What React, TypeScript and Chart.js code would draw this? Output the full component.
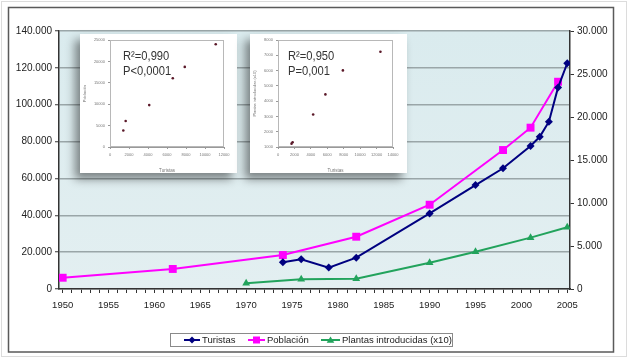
import React, { useEffect, useRef } from 'react';
import { Chart, registerables } from 'chart.js';
Chart.register(...registerables);

// ---- main chart data ----
const xTickLabels = [1950, 1955, 1960, 1965, 1970, 1975, 1980, 1985, 1990, 1995, 2000, 2005];
const leftTicks = [0, 20000, 40000, 60000, 80000, 100000, 120000, 140000];
const rightTicks = [0, 5000, 10000, 15000, 20000, 25000, 30000];

const turistasYears = [1974, 1976, 1979, 1982, 1990, 1995, 1998, 2001, 2002, 2003, 2004, 2005];
const turistasValues = [14500, 16100, 11600, 17000, 41000, 56400, 65500, 77600, 82600, 90800, 109400, 122500];

const poblacionYears = [1950, 1962, 1974, 1982, 1990, 1998, 2001, 2004];
const poblacionValues = [1310, 2330, 3950, 6080, 9800, 16160, 18760, 24100];

const plantasYears = [1970, 1976, 1982, 1990, 1995, 2001, 2005];
const plantasValues = [660, 1130, 1200, 3060, 4340, 5970, 7180];

// ---- inset scatter data ----
const inset1X = [1400, 1650, 4130, 6610, 7870, 11130];
const inset1Y = [3870, 6080, 9790, 16080, 18710, 24000];
const inset1XTicks = [0, 2000, 4000, 6000, 8000, 10000, 12000];
const inset1YTicks = [0, 5000, 10000, 15000, 20000, 25000];

const inset2X = [1650, 1780, 4280, 5770, 7900, 12470];
const inset2Y = [1220, 1310, 3130, 4440, 6010, 7230];
const inset2XTicks = [0, 2000, 4000, 6000, 8000, 10000, 12000, 14000];
const inset2YTicks = [1000, 2000, 3000, 4000, 5000, 6000, 7000, 8000];

const FONT = "'Liberation Sans', Arial, sans-serif";

const fmt = (v: number) => String(Math.round(v)).replace(/\B(?=(\d{3})+(?!\d))/g, '.');

const COL_T = '#000080';
const COL_P = '#ff00ff';
const COL_G = '#22a35c';

function drawMarker(ctx: CanvasRenderingContext2D, kind: string, x: number, y: number, color: string) {
  ctx.fillStyle = color;
  ctx.beginPath();
  if (kind === 'diamond') {
    ctx.moveTo(x, y - 3.5); ctx.lineTo(x + 3.5, y); ctx.lineTo(x, y + 3.5); ctx.lineTo(x - 3.5, y);
  } else if (kind === 'square') {
    ctx.rect(x - 3.5, y - 3.5, 7, 7);
  } else {
    ctx.moveTo(x, y - 3.5); ctx.lineTo(x + 3.8, y + 2.8); ctx.lineTo(x - 3.8, y + 2.8);
  }
  ctx.closePath();
  ctx.fill();
}

const framePlugin = {
  id: 'framePlugin',
  beforeDraw(chart: any) {
    const { ctx, chartArea: a } = chart;
    ctx.save();
    ctx.fillStyle = '#ffffff';
    ctx.fillRect(0, 0, chart.width, chart.height);
    ctx.strokeStyle = '#dcdcdc';
    ctx.lineWidth = 1;
    ctx.strokeRect(1.5, 1.5, chart.width - 3, chart.height - 3);
    ctx.strokeStyle = '#5a5a5a';
    ctx.lineWidth = 1.5;
    ctx.strokeRect(8.5, 7.5, 605, 344.5);
    const g = ctx.createLinearGradient(0, a.top, 0, a.bottom);
    g.addColorStop(0, '#daebee');
    g.addColorStop(1, '#e3eff1');
    ctx.fillStyle = g;
    ctx.fillRect(a.left, a.top, a.right - a.left, a.bottom - a.top);
    ctx.restore();
  },
  afterDraw(chart: any) {
    const { ctx } = chart;
    ctx.save();
    // legend box
    ctx.fillStyle = '#ffffff';
    ctx.fillRect(170, 333, 282, 13);
    ctx.strokeStyle = '#8a8a8a';
    ctx.lineWidth = 1;
    ctx.strokeRect(170.5, 333.5, 282, 13);
    const cy = 340;
    const items = [
      { label: 'Turistas', color: COL_T, kind: 'diamond', x0: 184, x1: 200 },
      { label: 'Población', color: COL_P, kind: 'square', x0: 248, x1: 265 },
      { label: 'Plantas introducidas (x10)', color: COL_G, kind: 'triangle', x0: 321, x1: 340 },
    ];
    ctx.font = `9.5px ${FONT}`;
    ctx.textBaseline = 'middle';
    ctx.textAlign = 'left';
    for (const it of items) {
      ctx.strokeStyle = it.color;
      ctx.lineWidth = 2;
      ctx.beginPath();
      ctx.moveTo(it.x0, cy);
      ctx.lineTo(it.x1, cy);
      ctx.stroke();
      drawMarker(ctx, it.kind, (it.x0 + it.x1) / 2, cy, it.color);
      ctx.fillStyle = '#222';
      ctx.fillText(it.label, it.x1 + 2, cy);
    }
    ctx.restore();
  },
};

function MainChart() {
  const ref = useRef<HTMLCanvasElement>(null);
  useEffect(() => {
    const chart = new Chart(ref.current!, {
      type: 'line',
      data: {
        datasets: [
          {
            label: 'Turistas',
            data: turistasYears.map((x, i) => ({ x, y: turistasValues[i] })),
            yAxisID: 'y',
            borderColor: COL_T,
            backgroundColor: COL_T,
            borderWidth: 2,
            pointStyle: 'rectRot',
            pointRadius: 4,
            pointBorderWidth: 0,
          },
          {
            label: 'Población',
            data: poblacionYears.map((x, i) => ({ x, y: poblacionValues[i] })),
            yAxisID: 'y1',
            borderColor: COL_P,
            backgroundColor: COL_P,
            borderWidth: 2,
            pointStyle: 'rect',
            pointRadius: 5.6,
            pointBorderWidth: 0,
          },
          {
            label: 'Plantas introducidas (x10)',
            data: plantasYears.map((x, i) => ({ x, y: plantasValues[i] })),
            yAxisID: 'y1',
            borderColor: COL_G,
            backgroundColor: COL_G,
            borderWidth: 2,
            pointStyle: 'triangle',
            pointRadius: 4.5,
            pointBorderWidth: 0,
          },
        ],
      },
      options: {
        animation: false,
        responsive: false,
        devicePixelRatio: 1,
        layout: { padding: { top: 31, left: 0, right: 0, bottom: 0 } },
        plugins: { legend: { display: false }, tooltip: { enabled: false } },
        scales: {
          x: {
            type: 'linear',
            min: 1949.6,
            max: 2005.3,
            afterBuildTicks: (s: any) => {
              const t = [];
              for (let v = xTickLabels[0]; v <= xTickLabels[xTickLabels.length - 1]; v++) t.push({ value: v });
              s.ticks = t;
            },
            afterFit: (s: any) => { s.height = 69; },
            ticks: {
              autoSkip: false,
              maxRotation: 0,
              padding: 7,
              color: '#222',
              font: { size: 9.5, family: FONT },
              callback: (v: any) => (xTickLabels.includes(Number(v)) ? String(v) : ''),
            },
            grid: { drawOnChartArea: false, tickLength: 4, color: '#333', lineWidth: 1 },
            border: { color: '#333', width: 1.5 },
          },
          y: {
            position: 'left',
            min: 0,
            max: 140000,
            afterBuildTicks: (s: any) => { s.ticks = leftTicks.map((value) => ({ value })); },
            afterFit: (s: any) => { s.width = 59; },
            ticks: {
              padding: 3,
              color: '#222',
              font: { size: 10, family: FONT },
              callback: (v: any) => fmt(Number(v)),
            },
            grid: { color: '#9aa6a8', lineWidth: 1.5, tickLength: 4, tickColor: '#333', tickWidth: 1 },
            border: { color: '#333', width: 1.5 },
          },
          y1: {
            position: 'right',
            min: 0,
            max: 30000,
            afterBuildTicks: (s: any) => { s.ticks = rightTicks.map((value) => ({ value })); },
            afterFit: (s: any) => { s.width = 58; },
            ticks: {
              padding: 3,
              color: '#222',
              font: { size: 10, family: FONT },
              callback: (v: any) => fmt(Number(v)),
            },
            grid: { drawOnChartArea: false, tickLength: 4, color: '#333', lineWidth: 1 },
            border: { color: '#333', width: 1.5 },
          },
        },
      },
      plugins: [framePlugin],
    } as any);
    return () => chart.destroy();
  }, []);
  return <canvas ref={ref} width={628} height={358} style={{ display: 'block' }} />;
}

type InsetProps = {
  left: number; top: number; width: number; height: number;
  plotLeft: number; plotRight: number;
  xs: number[]; ys: number[]; xTicks: number[]; yTicks: number[];
  yTitle: string; r2: string; p: string; textX: number;
};

function Inset(props: InsetProps) {
  const ref = useRef<HTMLCanvasElement>(null);
  useEffect(() => {
    const { xs, ys, xTicks, yTicks } = props;
    const textPlugin = {
      id: 'insetText',
      beforeDraw(chart: any) {
        const { ctx } = chart;
        ctx.save();
        ctx.fillStyle = '#ffffff';
        ctx.fillRect(0, 0, chart.width, chart.height);
        ctx.restore();
      },
      afterDraw(chart: any) {
        const { ctx, chartArea: a } = chart;
        ctx.save();
        ctx.strokeStyle = '#b8b8b8';
        ctx.lineWidth = 1;
        ctx.strokeRect(a.left + 0.5, a.top + 0.5, a.right - a.left - 1, a.bottom - a.top - 1);
        ctx.fillStyle = '#333';
        ctx.font = `13px ${FONT}`;
        ctx.textBaseline = 'alphabetic';
        ctx.translate(props.textX, 0);
        ctx.scale(0.86, 1);
        ctx.fillText(props.r2, 0, 26);
        ctx.fillText(props.p, 0, 41);
        ctx.restore();
      },
    };
    const chart = new Chart(ref.current!, {
      type: 'scatter',
      data: {
        datasets: [{
          data: xs.map((x, i) => ({ x, y: ys[i] })),
          backgroundColor: '#5a1828',
          borderColor: '#5a1828',
          pointRadius: 1.3,
          pointBorderWidth: 0,
        }],
      },
      options: {
        animation: false,
        responsive: false,
        devicePixelRatio: 1,
        layout: { padding: { top: 6, right: props.width - props.plotRight, left: 0, bottom: 0 } },
        plugins: { legend: { display: false }, tooltip: { enabled: false } },
        scales: {
          x: {
            type: 'linear',
            min: xTicks[0],
            max: xTicks[xTicks.length - 1],
            afterBuildTicks: (s: any) => { s.ticks = xTicks.map((value) => ({ value })); },
            afterFit: (s: any) => { s.height = 26; },
            ticks: {
              color: '#777', font: { size: 4, family: FONT }, padding: 3, maxRotation: 0, autoSkip: false,
              callback: (v: any) => String(v),
            },
            grid: { drawOnChartArea: false, tickLength: 2, color: '#999' },
            border: { color: '#999', width: 1 },
            title: { display: true, text: 'Turistas', color: '#777', font: { size: 4.5, family: FONT }, padding: { top: 3, bottom: 0 } },
          },
          y: {
            type: 'linear',
            min: yTicks[0],
            max: yTicks[yTicks.length - 1],
            afterBuildTicks: (s: any) => { s.ticks = yTicks.map((value) => ({ value })); },
            afterFit: (s: any) => { s.width = props.plotLeft; },
            ticks: {
              color: '#777', font: { size: 4, family: FONT }, padding: 3, autoSkip: false,
              callback: (v: any) => String(v),
            },
            grid: { drawOnChartArea: false, tickLength: 2, color: '#999' },
            border: { color: '#999', width: 1 },
            title: { display: true, text: props.yTitle, color: '#777', font: { size: 4, family: FONT }, padding: 2 },
          },
        },
      },
      plugins: [textPlugin],
    } as any);
    return () => chart.destroy();
  }, []);
  return (
    <div
      style={{
        position: 'absolute',
        left: props.left,
        top: props.top,
        width: props.width,
        height: props.height,
        boxShadow: '-5px 6px 9px rgba(0,0,0,0.45)',
        background: '#fff',
      }}
    >
      <canvas ref={ref} width={props.width} height={props.height} style={{ display: 'block' }} />
    </div>
  );
}

export default function App() {
  return (
    <div style={{ position: 'absolute', left: 0, top: 0, width: 628, height: 358, background: '#fff' }}>
      <MainChart />
      <Inset
        left={80} top={34} width={157} height={139}
        plotLeft={30} plotRight={144}
        xs={inset1X} ys={inset1Y} xTicks={inset1XTicks} yTicks={inset1YTicks}
        yTitle="Población" r2="R²=0,990" p="P<0,0001" textX={43}
      />
      <Inset
        left={250} top={34} width={157} height={139}
        plotLeft={28} plotRight={143}
        xs={inset2X} ys={inset2Y} xTicks={inset2XTicks} yTicks={inset2YTicks}
        yTitle="Plantas introducidas (x10)" r2="R²=0,950" p="P=0,001" textX={38}
      />
    </div>
  );
}
